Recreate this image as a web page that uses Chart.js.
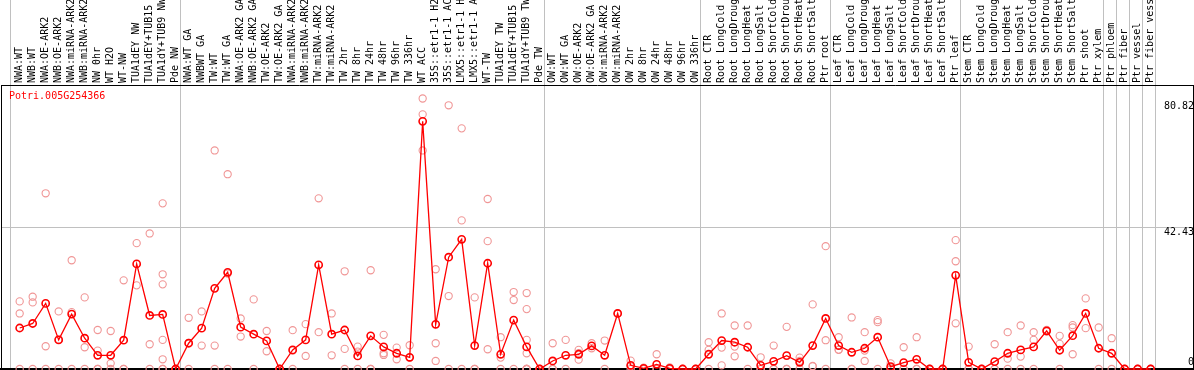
<!DOCTYPE html>
<html><head><meta charset="utf-8">
<script src="https://cdn.jsdelivr.net/npm/chart.js@4.4.0/dist/chart.umd.min.js"></script>
<style>html,body{margin:0;padding:0;background:#fff;overflow:hidden}canvas{display:block}</style>
</head><body>
<canvas id="c" width="1194" height="370" style="width:1194px;height:370px"></canvas>
<script>
const geneId = 'Potri.005G254366';

const categories = [
  'NWA:WT','NWB:WT','NWA:OE-ARK2','NWB:OE-ARK2','NWA:miRNA-ARK2','NWB:miRNA-ARK2','NW 0hr','WT H2O','WT-NW',
  'TUA1dEY NW','TUA1dEY+TUB15','TUA1dY+TUB9 NW','Pde NW',
  'NWA:WT GA','NWBWT GA','TW:WT','TW:WT GA','NWA:OE-ARK2 GA','NWB:OE-ARK2 GA','TW:OE-ARK2','TW:OE-ARK2 GA',
  'NWA:miRNA-ARK2','NWB:miRNA-ARK2','TW:miRNA-ARK2','TW:miRNA-ARK2','TW 2hr','TW 8hr','TW 24hr','TW 48hr',
  'TW 96hr','TW 336hr','WT ACC','35S::etr1-1 H2','35S::etr1-1 AC','LMX5::etr1-1 H','LMX5::etr1-1 A','WT-TW',
  'TUA1dEY TW','TUA1dEY+TUB15','TUA1dY+TUB9 TW','Pde TW',
  'OW:WT','OW:WT GA','OW:OE-ARK2','OW:OE-ARK2 GA','OW:miRNA-ARK2','OW:miRNA-ARK2','OW 2hr','OW 8hr','OW 24hr',
  'OW 48hr','OW 96hr','OW 336hr',
  'Root CTR','Root LongCold','Root LongDroug','Root LongHeat','Root LongSalt','Root ShortCold','Root ShortDrou',
  'Root ShortHeat','Root ShortSalt','Ptr root',
  'Leaf CTR','Leaf LongCold','Leaf LongDroug','Leaf LongHeat','Leaf LongSalt','Leaf ShortCold','Leaf ShortDrou',
  'Leaf ShortHeat','Leaf ShortSalt','Ptr leaf',
  'Stem CTR','Stem LongCold','Stem LongDroug','Stem LongHeat','Stem LongSalt','Stem ShortCold','Stem ShortDrou',
  'Stem ShortHeat','Stem ShortSalt','Ptr shoot','Ptr xylem','Ptr phloem','Ptr fiber','Ptr vessel','Ptr fiber vess'
];

const meanValues = [
  12.25,13.6,19.6,8.7,16.4,9.2,4.1,4.1,8.6,31.4,16.0,16.3,0,
  7.7,12.2,24.1,28.9,12.5,10.4,8.4,0,5.7,8.7,31.1,10.4,11.65,3.9,9.9,6.6,4.7,3.5,
  74.0,13.35,33.4,38.75,7.0,31.6,4.4,14.6,6.6,0,
  2.4,4.1,4.4,6.9,4.1,16.6,1.1,0.2,1.4,0.2,0,0,
  4.4,8.5,8.0,6.5,1.1,2.3,4.0,2.0,7.0,15.1,
  7.0,5.0,6.2,9.5,0.7,1.9,2.9,0,0,28.0,
  2.0,0,2.2,4.7,5.7,6.6,11.4,5.6,9.95,16.6,6.2,4.7,0,0,0
];

const replicateValues = [
  [20.2,16.6,0],[21.6,19.9,0],[52.5,6.8,0],[17.2,8.8,0],[32.5,17.0,0],[21.4,6.5,0],[11.65,5.5,0,0],
  [11.35,1.7,0],[26.5,0,0],[37.6,25.0],[40.5,7.4,0],[49.5,28.3,25.3,8.7,2.9,0,0],[0,0,0],
  [15.3,7.8,0],[17.2,7.0],[65.3,7.0,0],[58.2,28.5,0],[15.1,9.7],[20.8,0],[11.35,5.3],[0,0,0],
  [11.6,5.5,0],[13.4,3.9],[51.0,11.0],[16.6,4.1],[29.2,6.0,0],[6.7,5.2,0],[29.5,0,0],[10.2,4.7,4.2],
  [6.4,2.9],[7.1,3.4,0],[80.82,76.1,65.3],[29.8,7.7,2.4],[78.8,21.8,0],[71.9,44.4,0],[21.4,0,0],
  [50.8,38.2,5.9],[9.5,3.4,0],[23.0,20.6,0],[22.7,17.9,8.7,4.7,0,0,0,0],[0,0,0],
  [7.7,0,0],[8.7,0],[5.7,4.7,2.8],[7.7,6.2],[8.5,0],[16.6],[2.5,0.8,0],[0.4,0,0],[4.4,0,0],
  [0.5,0,0],[0,0,0],[0,0,0],
  [8.0,5.7,0],[16.6,6.4,1.1],[13.0,6.7,3.8],[13.0,0],[3.5,0,0],[7.0,0,0],[12.6,0,0],[3.4,2.4,0],
  [19.3,0.9,0.8],[36.7,8.6,0],
  [9.5,5.8,5.7],[15.4,0,0],[11.0,5.5,2.4],[14.6,14.0,0],[1.7,0.4,0],[6.5,0,0],[9.5,0,0],[0,0,0],
  [0,0,0],[38.5,32.2,13.65],
  [6.7,0,0],[0,0,0],[7.4,0,0],[11.0,3.1,0],[13.0,3.7,0],[11.0,8.7,0],[11.7,11.2],[9.9,7.5,0],
  [13.1,12.4,4.4],[21.1,12.2],[12.4,0],[9.2,0],[0,0,0],[0,0,0],[0,0,0]
];

// group separator positions, in category-index units
const groupSeparators = [-0.72,12.36,40.36,52.36,62.36,72.36,83.36,84.36,85.36,86.36,87.36];

const yTickValues = [0, 42.43, 80.82];
const yTickLabels = ['0', '42.43', '80.82'];
const yGridValue = 42.43;
const yMax = 84.86;

// layout constants
const X_MIN = -1.4362, X_MAX = 90.2561;
const FONT = '"DejaVu Sans Mono", "Liberation Mono", monospace';
const RED = '#ff0000';
const PALE = '#f09696';
const GRID = '#c0c0c0';

const meanPoints = meanValues.map((v, i) => ({x: i, y: v}));
const repPoints = replicateValues.flatMap((arr, i) => arr.map(v => ({x: i, y: v})));

const topTicks = groupSeparators.concat(categories.map((_, i) => i)).sort((a, b) => a - b);

const geneLabel = {
  id: 'geneLabel',
  afterDraw(chart) {
    const {ctx, chartArea} = chart;
    ctx.save();
    ctx.font = '10px ' + FONT;
    ctx.fillStyle = RED;
    ctx.textBaseline = 'middle';
    ctx.textAlign = 'left';
    ctx.fillText(geneId, chartArea.left + 8, chartArea.top + 11.5);
    ctx.restore();
  }
};

const yLabelFont = {
  '80.82': 16, '42.43': 11, '0': 14
};

new Chart(document.getElementById('c'), {
  type: 'line',
  data: {
    datasets: [
      {
        label: geneId,
        data: meanPoints,
        xAxisID: 'x', yAxisID: 'y',
        borderColor: RED,
        borderWidth: 1.3,
        pointRadius: 3.6,
        pointBorderWidth: 1.6,
        pointBorderColor: RED,
        pointBackgroundColor: 'rgba(255,255,255,0)',
        tension: 0,
        clip: false
      },
      {
        type: 'scatter',
        label: 'replicates',
        data: repPoints,
        xAxisID: 'x', yAxisID: 'y',
        showLine: false,
        pointRadius: 3.6,
        pointBorderWidth: 1.1,
        pointBorderColor: PALE,
        pointBackgroundColor: 'rgba(255,255,255,0)',
        clip: false
      }
    ]
  },
  options: {
    responsive: false,
    animation: false,
    devicePixelRatio: 1,
    layout: {padding: 0, autoPadding: false},
    plugins: {legend: {display: false}, tooltip: {enabled: false}},
    scales: {
      x: {
        type: 'linear', position: 'bottom', min: X_MIN, max: X_MAX,
        ticks: {display: false},
        grid: {display: false},
        border: {display: true, color: '#000', width: 2},
        afterFit(s) { s.height = 1; s.paddingLeft = 0; s.paddingRight = 0; }
      },
      xTop: {
        type: 'linear', position: 'top', min: X_MIN, max: X_MAX,
        afterBuildTicks(s) { s.ticks = topTicks.map(v => ({value: v})); },
        ticks: {
          autoSkip: false, minRotation: 90, maxRotation: 90,
          padding: -83,
          labelOffset: 12,
          color: '#000',
          font: {family: FONT, size: 10, lineHeight: 1.2},
          callback: (value) => Number.isInteger(value) ? categories[value] : ''
        },
        grid: {
          display: true, drawOnChartArea: true, drawTicks: true, tickLength: 85, lineWidth: 1,
          color: (c) => (c.tick && !Number.isInteger(c.tick.value)) ? GRID : 'rgba(0,0,0,0)',
          tickColor: (c) => (c.tick && !Number.isInteger(c.tick.value)) ? GRID : 'rgba(0,0,0,0)'
        },
        border: {display: true, color: '#000', width: 1},
        afterFit(s) { s.height = 85; s.paddingLeft = 0; s.paddingRight = 0; }
      },
      y: {
        type: 'linear', position: 'right', min: 0, max: yMax,
        afterBuildTicks(s) { s.ticks = yTickValues.map(v => ({value: v})); },
        ticks: {
          mirror: true, padding: 1, color: '#000',
          font: (c) => ({family: FONT, size: 10, lineHeight: (c.tick ? (yLabelFont[yTickLabels[yTickValues.indexOf(c.tick.value)]] || 12) : 12) + 'px'}),
          callback: (value) => {
            const t = yTickLabels[yTickValues.indexOf(value)];
            return value === 0 ? [t, ''] : ['', t];
          }
        },
        grid: {
          drawTicks: false, lineWidth: 1,
          color: (c) => (c.tick && c.tick.value === yGridValue) ? GRID : 'rgba(0,0,0,0)'
        },
        border: {display: true, color: '#000', width: 1},
        afterFit(s) { s.width = 1; s.paddingTop = 0; s.paddingBottom = 0; }
      },
      yLeft: {
        type: 'linear', position: 'left', min: 0, max: yMax,
        ticks: {display: false},
        grid: {display: false},
        border: {display: true, color: '#000', width: 1},
        afterFit(s) { s.width = 1; s.paddingTop = 0; s.paddingBottom = 0; }
      }
    }
  },
  plugins: [geneLabel]
});
</script>
</body></html>
